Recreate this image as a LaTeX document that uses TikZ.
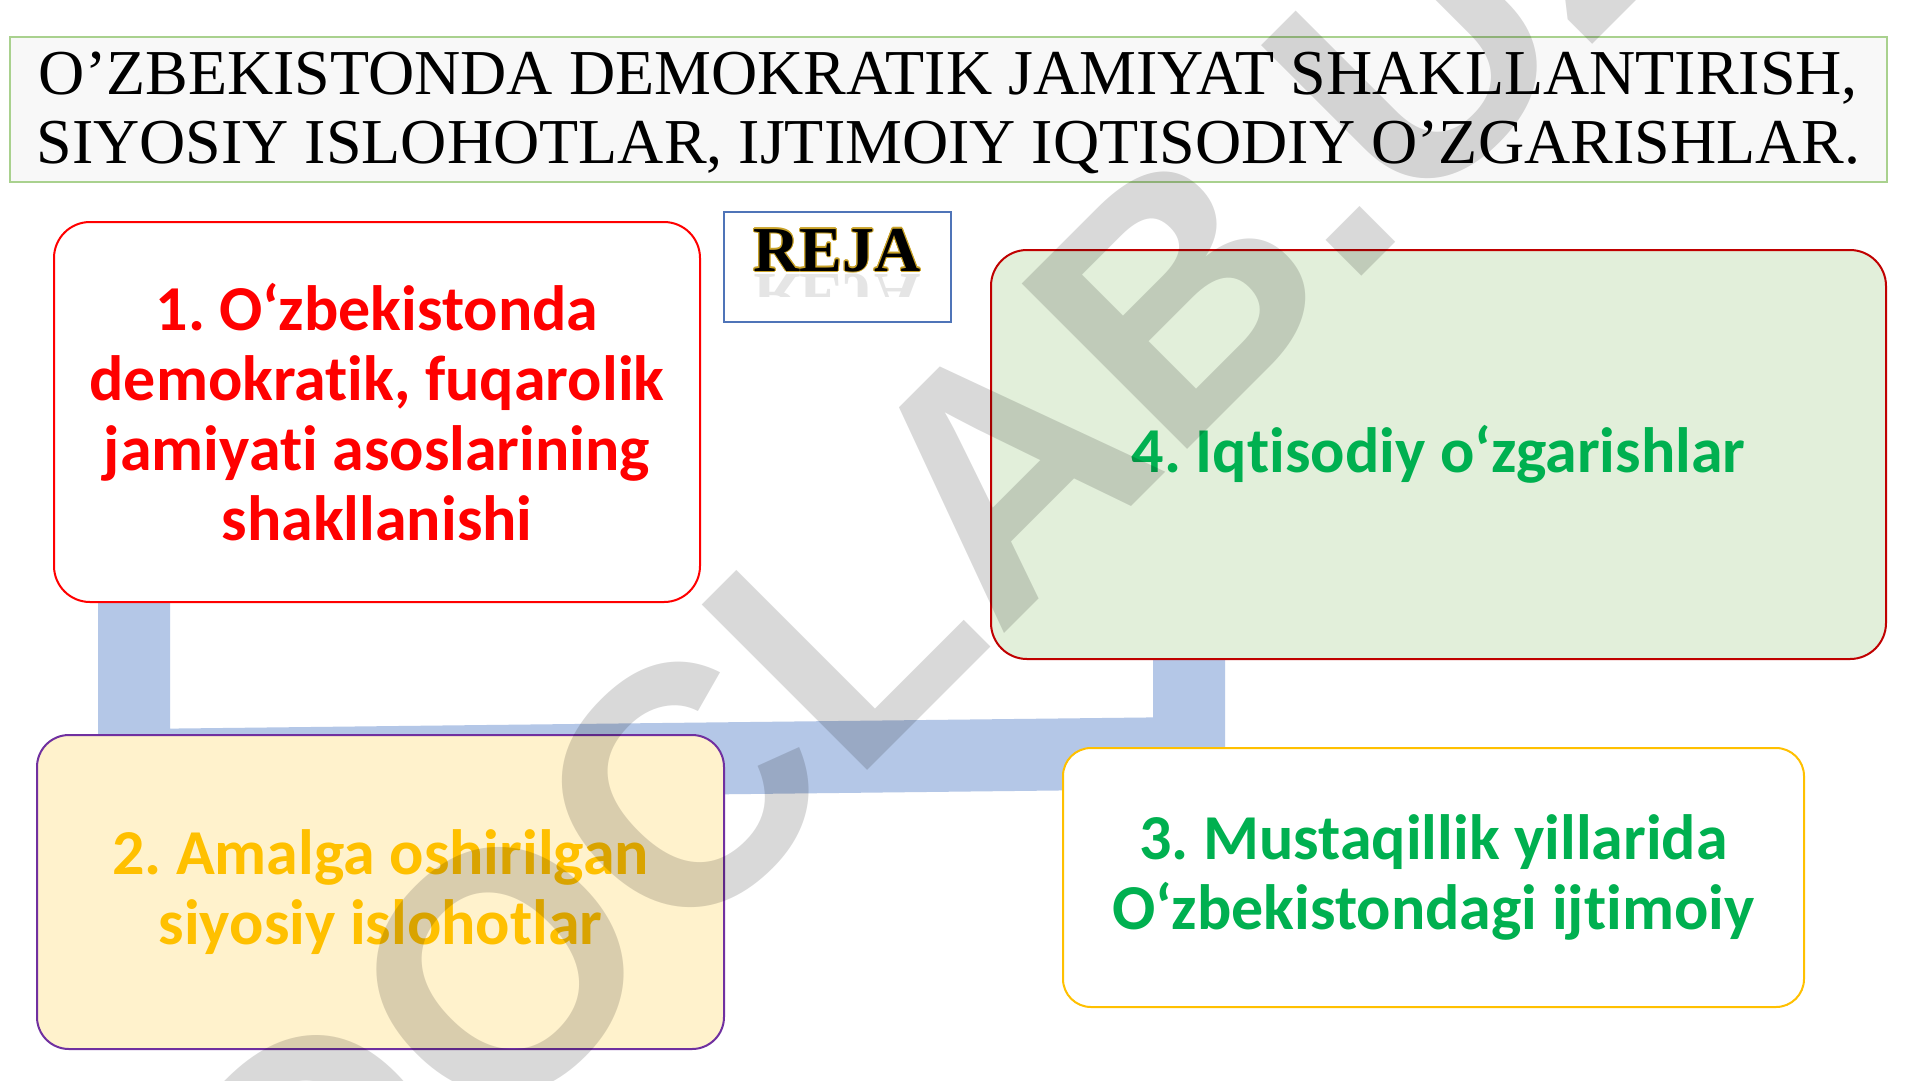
\documentclass[tikz,border=0pt]{standalone}
\usepackage{fontspec}
\setmainfont{Liberation Serif}
\newfontfamily\bodyfont[Ligatures=CommonOff]{Carlito}
\newfontfamily\wmfont{Liberation Sans}
\usetikzlibrary{calc}
\frenchspacing
\definecolor{titlebd}{HTML}{A9D18E}
\definecolor{titlefill}{HTML}{F8F8F8}
\definecolor{rejabd}{HTML}{4F74B8}
\definecolor{rejagold}{HTML}{C9A227}
\definecolor{redtxt}{HTML}{FF0000}
\definecolor{redbd}{HTML}{FF0000}
\definecolor{darkredbd}{HTML}{C00000}
\definecolor{greenfill}{HTML}{E2EFDA}
\definecolor{greentxt}{HTML}{00B050}
\definecolor{purplebd}{HTML}{7030A0}
\definecolor{yellowfill}{HTML}{FFF2CC}
\definecolor{goldtxt}{HTML}{FFC000}
\definecolor{connblue}{HTML}{B4C7E7}
\pgfdeclarelayer{bg}
\pgfdeclarelayer{fg}
\pgfsetlayers{bg,main,fg}
\tikzset{
  titlebox/.style={draw=titlebd, fill=titlefill, line width=1.5pt, inner sep=0pt,
    align=center, font=\fontsize{64}{69}\selectfont},
  planbox/.style={rounded corners=36pt, line width=2pt, inner sep=0pt, align=center,
    font=\bodyfont\bfseries\fontsize{64}{70}\selectfont},
  rejabox/.style={draw=rejabd, line width=1.5pt, fill=white, inner sep=0pt},
  rejafont/.style={font=\bfseries\fontsize{64}{64}\selectfont, inner sep=0pt},
  conn/.style={draw=connblue, line width=72pt, line cap=butt, line join=miter},
  wm/.style={text=black, text opacity=0.15, inner sep=0pt,
    font=\wmfont\bfseries\fontsize{340}{340}\selectfont}
}
\begin{document}
\begin{tikzpicture}[x=1pt,y=-1pt]
\useasboundingbox (0,0) rectangle (1920,1080);

% title
\node[titlebox, minimum width=1877pt, minimum height=145pt] (title) at (948.5,109.5) {};
\node[align=center, inner sep=0pt, font=\fontsize{64}{69}\selectfont] (titletext) at (948.5,113)
  {O’ZBEKISTONDA DEMOKRATIK JAMIYAT SHAKLLANTIRISH,\\SIYOSIY ISLOHOTLAR, IJTIMOIY IQTISODIY O’ZGARISHLAR.};

% REJA box
\node[rejabox, minimum width=227pt, minimum height=110pt] (reja) at (837.5,267) {};
\foreach \a in {0,30,...,330}
  \node[rejafont, text=rejagold, anchor=base] at ($(837,271)+(\a:1.1)$) {REJA};
\node[rejafont, text=black, anchor=base] (rejatext) at (837,271) {REJA};
\begin{scope}
  \clip (740,272) rectangle (935,296);
  \node[rejafont, text=black, text opacity=0.10, anchor=base, yscale=-1] (rejarefl) at (837,274) {REJA};
\end{scope}

% plan boxes
\node[planbox, draw=redbd, fill=white, text=redtxt, minimum width=646pt, minimum height=380pt] (b1) at (377,412)
  {1. O‘zbekistonda\\demokratik, fuqarolik\\jamiyati asoslarining\\shakllanishi};
\node[planbox, draw=darkredbd, fill=greenfill, text=greentxt, minimum width=895pt, minimum height=409pt] (b4) at (1438.5,454.5)
  {4. Iqtisodiy o‘zgarishlar};
\node[planbox, rounded corners=32pt, draw=purplebd, fill=yellowfill, text=goldtxt, minimum width=687pt, minimum height=314pt] (b2) at (380.5,892)
  {2. Amalga oshirilgan\\siyosiy islohotlar};
\node[planbox, rounded corners=28pt, draw=goldtxt, fill=white, text=greentxt, minimum width=741pt, minimum height=259pt] (b3) at (1433.5,877.5)
  {3. Mustaqillik yillarida\\O‘zbekistondagi ijtimoiy};

% background and connector
\begin{pgfonlayer}{bg}
\fill[white] (0,0) rectangle (1920,1080);
\draw[conn] ([xshift=81pt]b1.south west) -- ([xshift=81pt,yshift=-162pt]b1.south west)
  -- ([xshift=199pt,yshift=-93pt]b4.south west) -- ([xshift=199pt]b4.south west);
\end{pgfonlayer}

% watermark
\begin{pgfonlayer}{fg}
\node[wm, rotate=45] (wmark) at (942,530) {DOCLAB.UZ};
\end{pgfonlayer}
\end{tikzpicture}
\end{document}
